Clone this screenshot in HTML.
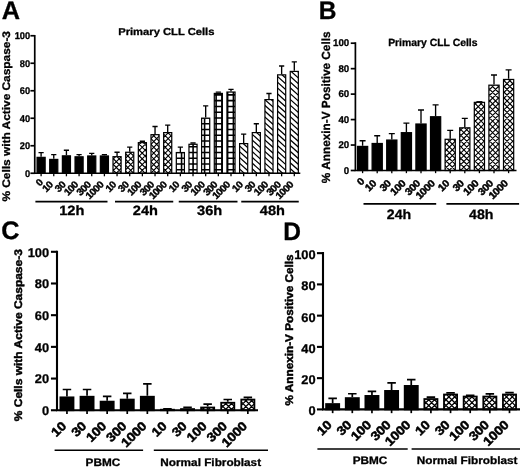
<!DOCTYPE html>
<html lang="en">
<head>
<meta charset="utf-8">
<title>Figure</title>
<style>
html,body{margin:0;padding:0;background:#fff;}
body{width:520px;height:468px;overflow:hidden;}
svg{display:block;font-family:"Liberation Sans", Arial, Helvetica, sans-serif;fill:#000;}
text{text-rendering:geometricPrecision;}

</style>
</head>
<body>
<svg width="520" height="468" viewBox="0 0 520 468">
<rect width="520" height="468" fill="#fff"/>
<defs>
<clipPath id="c1"><rect x="113.01" y="156.66" width="8.10" height="16.59"/></clipPath>
<clipPath id="c2"><rect x="125.67" y="152.26" width="8.10" height="20.99"/></clipPath>
<clipPath id="c3"><rect x="138.33" y="142.64" width="8.10" height="30.61"/></clipPath>
<clipPath id="c4"><rect x="150.99" y="134.66" width="8.10" height="38.59"/></clipPath>
<clipPath id="c5"><rect x="163.65" y="132.60" width="8.10" height="40.65"/></clipPath>
<clipPath id="c6"><rect x="176.31" y="152.54" width="8.10" height="20.71"/></clipPath>
<clipPath id="c7"><rect x="188.97" y="144.29" width="8.10" height="28.96"/></clipPath>
<clipPath id="c8"><rect x="201.63" y="118.16" width="8.10" height="55.09"/></clipPath>
<clipPath id="c9"><rect x="214.29" y="93.41" width="8.10" height="79.84"/></clipPath>
<clipPath id="c10"><rect x="226.95" y="92.04" width="8.10" height="81.21"/></clipPath>
<clipPath id="c11"><rect x="239.61" y="143.60" width="8.10" height="29.65"/></clipPath>
<clipPath id="c12"><rect x="252.27" y="132.60" width="8.10" height="40.65"/></clipPath>
<clipPath id="c13"><rect x="264.93" y="99.60" width="8.10" height="73.65"/></clipPath>
<clipPath id="c14"><rect x="277.59" y="74.85" width="8.10" height="98.40"/></clipPath>
<clipPath id="c15"><rect x="290.25" y="71.41" width="8.10" height="101.84"/></clipPath>
<clipPath id="c16"><rect x="445.10" y="139.28" width="10.20" height="31.22"/></clipPath>
<clipPath id="c17"><rect x="459.70" y="127.82" width="10.20" height="42.68"/></clipPath>
<clipPath id="c18"><rect x="474.30" y="102.36" width="10.20" height="68.14"/></clipPath>
<clipPath id="c19"><rect x="488.90" y="85.17" width="10.20" height="85.33"/></clipPath>
<clipPath id="c20"><rect x="503.50" y="79.44" width="10.20" height="91.06"/></clipPath>
<clipPath id="c21"><rect x="160.90" y="409.72" width="13.10" height="0.53"/></clipPath>
<clipPath id="c22"><rect x="181.00" y="409.09" width="13.10" height="1.16"/></clipPath>
<clipPath id="c23"><rect x="201.10" y="407.51" width="13.10" height="2.74"/></clipPath>
<clipPath id="c24"><rect x="221.20" y="402.75" width="13.10" height="7.50"/></clipPath>
<clipPath id="c25"><rect x="241.30" y="399.58" width="13.10" height="10.67"/></clipPath>
<clipPath id="c26"><rect x="424.35" y="399.05" width="13.10" height="10.35"/></clipPath>
<clipPath id="c27"><rect x="444.00" y="394.52" width="13.10" height="14.88"/></clipPath>
<clipPath id="c28"><rect x="463.65" y="396.55" width="13.10" height="12.85"/></clipPath>
<clipPath id="c29"><rect x="483.30" y="396.55" width="13.10" height="12.85"/></clipPath>
<clipPath id="c30"><rect x="502.95" y="394.52" width="13.10" height="14.88"/></clipPath>
</defs>
<g>
<text transform="translate(1.80,19.00)" font-size="25.3" font-weight="bold" text-anchor="start" stroke="#000" stroke-width="0.30" stroke-linejoin="round">A</text>
<text transform="translate(166.30,35.10) scale(1.1200,1.0000)" font-size="10.0" font-weight="bold" text-anchor="middle" stroke="#000" stroke-width="0.30" stroke-linejoin="round">Primary CLL Cells</text>
<text transform="translate(10.30,116.30) rotate(-90) scale(1.0800,1.0000)" font-size="11.0" font-weight="bold" text-anchor="middle" stroke="#000" stroke-width="0.30" stroke-linejoin="round">% Cells with Active Caspase-3</text>
<path d="M41.10,156.75 V152.62 M38.50,152.62 H43.70" stroke="#000" stroke-width="1.35" fill="none"/>
<rect x="37.05" y="157.35" width="8.10" height="15.90" fill="#000" stroke="#000" stroke-width="1.2"/>
<path d="M41.10,173.25 v3.05" stroke="#000" stroke-width="1.3"/>
<text transform="translate(43.30,183.25) rotate(-45) scale(1.0400,1.0000)" font-size="9.9" font-weight="bold" text-anchor="end" letter-spacing="-0.60" stroke="#000" stroke-width="0.40" stroke-linejoin="round">0</text>
<path d="M53.76,158.81 V154.69 M51.16,154.69 H56.36" stroke="#000" stroke-width="1.35" fill="none"/>
<rect x="49.71" y="159.41" width="8.10" height="13.84" fill="#000" stroke="#000" stroke-width="1.2"/>
<path d="M53.76,173.25 v3.05" stroke="#000" stroke-width="1.3"/>
<text transform="translate(53.36,185.45) rotate(-45) scale(1.0400,1.0000)" font-size="9.9" font-weight="bold" text-anchor="end" letter-spacing="-0.60" stroke="#000" stroke-width="0.40" stroke-linejoin="round">10</text>
<path d="M66.42,155.24 V150.29 M63.82,150.29 H69.02" stroke="#000" stroke-width="1.35" fill="none"/>
<rect x="62.37" y="155.84" width="8.10" height="17.41" fill="#000" stroke="#000" stroke-width="1.2"/>
<path d="M66.42,173.25 v3.05" stroke="#000" stroke-width="1.3"/>
<text transform="translate(66.02,185.45) rotate(-45) scale(1.0400,1.0000)" font-size="9.9" font-weight="bold" text-anchor="end" letter-spacing="-0.60" stroke="#000" stroke-width="0.40" stroke-linejoin="round">30</text>
<path d="M79.08,156.20 V154.69 M76.48,154.69 H81.68" stroke="#000" stroke-width="1.35" fill="none"/>
<rect x="75.03" y="156.80" width="8.10" height="16.45" fill="#000" stroke="#000" stroke-width="1.2"/>
<path d="M79.08,173.25 v3.05" stroke="#000" stroke-width="1.3"/>
<text transform="translate(78.68,185.45) rotate(-45) scale(1.0400,1.0000)" font-size="9.9" font-weight="bold" text-anchor="end" letter-spacing="-0.60" stroke="#000" stroke-width="0.40" stroke-linejoin="round">100</text>
<path d="M91.74,155.38 V153.31 M89.14,153.31 H94.34" stroke="#000" stroke-width="1.35" fill="none"/>
<rect x="87.69" y="155.97" width="8.10" height="17.27" fill="#000" stroke="#000" stroke-width="1.2"/>
<path d="M91.74,173.25 v3.05" stroke="#000" stroke-width="1.3"/>
<text transform="translate(91.34,185.45) rotate(-45) scale(1.0400,1.0000)" font-size="9.9" font-weight="bold" text-anchor="end" letter-spacing="-0.60" stroke="#000" stroke-width="0.40" stroke-linejoin="round">300</text>
<path d="M104.40,155.38 V154.69 M101.80,154.69 H107.00" stroke="#000" stroke-width="1.35" fill="none"/>
<rect x="100.35" y="155.97" width="8.10" height="17.27" fill="#000" stroke="#000" stroke-width="1.2"/>
<path d="M104.40,173.25 v3.05" stroke="#000" stroke-width="1.3"/>
<text transform="translate(104.00,185.45) rotate(-45) scale(1.0400,1.0000)" font-size="9.9" font-weight="bold" text-anchor="end" letter-spacing="-0.60" stroke="#000" stroke-width="0.40" stroke-linejoin="round">1000</text>
<path d="M35.4,201.65 H107.5" stroke="#000" stroke-width="1.7"/>
<text transform="translate(71.80,214.70) scale(1.0800,1.0000)" font-size="13.5" font-weight="bold" text-anchor="middle" stroke="#000" stroke-width="0.30" stroke-linejoin="round">12h</text>
<path d="M117.06,156.06 V152.21 M114.46,152.21 H119.66" stroke="#000" stroke-width="1.35" fill="none"/>
<rect x="113.01" y="156.66" width="8.10" height="16.59" fill="#fff"/>
<path d="M112.01,140.11L122.11,150.21M112.01,145.87L122.11,155.97M112.01,151.63L122.11,161.73M112.01,157.39L122.11,167.49M112.01,163.15L122.11,173.25M112.01,168.91L122.11,179.01M112.01,174.67L122.11,184.77M112.01,180.43L122.11,190.53M112.01,148.69L122.11,138.59M112.01,154.45L122.11,144.35M112.01,160.21L122.11,150.11M112.01,165.97L122.11,155.87M112.01,171.73L122.11,161.63M112.01,177.49L122.11,167.39M112.01,183.25L122.11,173.15M112.01,189.01L122.11,178.91" clip-path="url(#c1)" stroke="#000" stroke-width="1.15" fill="none"/>
<rect x="113.01" y="156.66" width="8.10" height="16.59" fill="none" stroke="#000" stroke-width="1.2"/>
<path d="M117.06,173.25 v3.05" stroke="#000" stroke-width="1.3"/>
<text transform="translate(116.66,185.45) rotate(-45) scale(1.0400,1.0000)" font-size="9.9" font-weight="bold" text-anchor="end" letter-spacing="-0.60" stroke="#000" stroke-width="0.40" stroke-linejoin="round">10</text>
<path d="M129.72,151.66 V147.12 M127.12,147.12 H132.32" stroke="#000" stroke-width="1.35" fill="none"/>
<rect x="125.67" y="152.26" width="8.10" height="20.99" fill="#fff"/>
<path d="M124.67,135.49L134.77,145.59M124.67,141.25L134.77,151.35M124.67,147.01L134.77,157.11M124.67,152.77L134.77,162.87M124.67,158.53L134.77,168.63M124.67,164.29L134.77,174.39M124.67,170.05L134.77,180.15M124.67,175.81L134.77,185.91M124.67,181.57L134.77,191.67M124.67,141.79L134.77,131.69M124.67,147.55L134.77,137.45M124.67,153.31L134.77,143.21M124.67,159.07L134.77,148.97M124.67,164.83L134.77,154.73M124.67,170.59L134.77,160.49M124.67,176.35L134.77,166.25M124.67,182.11L134.77,172.01M124.67,187.87L134.77,177.77M124.67,193.63L134.77,183.53" clip-path="url(#c2)" stroke="#000" stroke-width="1.15" fill="none"/>
<rect x="125.67" y="152.26" width="8.10" height="20.99" fill="none" stroke="#000" stroke-width="1.2"/>
<path d="M129.72,173.25 v3.05" stroke="#000" stroke-width="1.3"/>
<text transform="translate(129.32,185.45) rotate(-45) scale(1.0400,1.0000)" font-size="9.9" font-weight="bold" text-anchor="end" letter-spacing="-0.60" stroke="#000" stroke-width="0.40" stroke-linejoin="round">30</text>
<path d="M142.38,142.04 V141.21 M139.78,141.21 H144.98" stroke="#000" stroke-width="1.35" fill="none"/>
<rect x="138.33" y="142.64" width="8.10" height="30.61" fill="#fff"/>
<path d="M137.33,125.11L147.43,135.21M137.33,130.87L147.43,140.97M137.33,136.63L147.43,146.73M137.33,142.39L147.43,152.49M137.33,148.15L147.43,158.25M137.33,153.91L147.43,164.01M137.33,159.67L147.43,169.77M137.33,165.43L147.43,175.53M137.33,171.19L147.43,181.29M137.33,176.95L147.43,187.05M137.33,182.71L147.43,192.81M137.33,134.89L147.43,124.79M137.33,140.65L147.43,130.55M137.33,146.41L147.43,136.31M137.33,152.17L147.43,142.07M137.33,157.93L147.43,147.83M137.33,163.69L147.43,153.59M137.33,169.45L147.43,159.35M137.33,175.21L147.43,165.11M137.33,180.97L147.43,170.87M137.33,186.73L147.43,176.63M137.33,192.49L147.43,182.39" clip-path="url(#c3)" stroke="#000" stroke-width="1.15" fill="none"/>
<rect x="138.33" y="142.64" width="8.10" height="30.61" fill="none" stroke="#000" stroke-width="1.2"/>
<path d="M142.38,173.25 v3.05" stroke="#000" stroke-width="1.3"/>
<text transform="translate(141.98,185.45) rotate(-45) scale(1.0400,1.0000)" font-size="9.9" font-weight="bold" text-anchor="end" letter-spacing="-0.60" stroke="#000" stroke-width="0.40" stroke-linejoin="round">100</text>
<path d="M155.04,134.06 V126.50 M152.44,126.50 H157.64" stroke="#000" stroke-width="1.35" fill="none"/>
<rect x="150.99" y="134.66" width="8.10" height="38.59" fill="#fff"/>
<path d="M149.99,114.73L160.09,124.83M149.99,120.49L160.09,130.59M149.99,126.25L160.09,136.35M149.99,132.01L160.09,142.11M149.99,137.77L160.09,147.87M149.99,143.53L160.09,153.63M149.99,149.29L160.09,159.39M149.99,155.05L160.09,165.15M149.99,160.81L160.09,170.91M149.99,166.57L160.09,176.67M149.99,172.33L160.09,182.43M149.99,178.09L160.09,188.19M149.99,127.99L160.09,117.89M149.99,133.75L160.09,123.65M149.99,139.51L160.09,129.41M149.99,145.27L160.09,135.17M149.99,151.03L160.09,140.93M149.99,156.79L160.09,146.69M149.99,162.55L160.09,152.45M149.99,168.31L160.09,158.21M149.99,174.07L160.09,163.97M149.99,179.83L160.09,169.73M149.99,185.59L160.09,175.49M149.99,191.35L160.09,181.25" clip-path="url(#c4)" stroke="#000" stroke-width="1.15" fill="none"/>
<rect x="150.99" y="134.66" width="8.10" height="38.59" fill="none" stroke="#000" stroke-width="1.2"/>
<path d="M155.04,173.25 v3.05" stroke="#000" stroke-width="1.3"/>
<text transform="translate(154.64,185.45) rotate(-45) scale(1.0400,1.0000)" font-size="9.9" font-weight="bold" text-anchor="end" letter-spacing="-0.60" stroke="#000" stroke-width="0.40" stroke-linejoin="round">300</text>
<path d="M167.70,132.00 V125.12 M165.10,125.12 H170.30" stroke="#000" stroke-width="1.35" fill="none"/>
<rect x="163.65" y="132.60" width="8.10" height="40.65" fill="#fff"/>
<path d="M162.65,115.87L172.75,125.97M162.65,121.63L172.75,131.73M162.65,127.39L172.75,137.49M162.65,133.15L172.75,143.25M162.65,138.91L172.75,149.01M162.65,144.67L172.75,154.77M162.65,150.43L172.75,160.53M162.65,156.19L172.75,166.29M162.65,161.95L172.75,172.05M162.65,167.71L172.75,177.81M162.65,173.47L172.75,183.57M162.65,179.23L172.75,189.33M162.65,126.85L172.75,116.75M162.65,132.61L172.75,122.51M162.65,138.37L172.75,128.27M162.65,144.13L172.75,134.03M162.65,149.89L172.75,139.79M162.65,155.65L172.75,145.55M162.65,161.41L172.75,151.31M162.65,167.17L172.75,157.07M162.65,172.93L172.75,162.83M162.65,178.69L172.75,168.59M162.65,184.45L172.75,174.35M162.65,190.21L172.75,180.11" clip-path="url(#c5)" stroke="#000" stroke-width="1.15" fill="none"/>
<rect x="163.65" y="132.60" width="8.10" height="40.65" fill="none" stroke="#000" stroke-width="1.2"/>
<path d="M167.70,173.25 v3.05" stroke="#000" stroke-width="1.3"/>
<text transform="translate(167.30,185.45) rotate(-45) scale(1.0400,1.0000)" font-size="9.9" font-weight="bold" text-anchor="end" letter-spacing="-0.60" stroke="#000" stroke-width="0.40" stroke-linejoin="round">1000</text>
<path d="M115,201.65 H173.25" stroke="#000" stroke-width="1.7"/>
<text transform="translate(145.40,214.70) scale(1.0800,1.0000)" font-size="13.5" font-weight="bold" text-anchor="middle" stroke="#000" stroke-width="0.30" stroke-linejoin="round">24h</text>
<path d="M180.36,151.94 V147.12 M177.76,147.12 H182.96" stroke="#000" stroke-width="1.35" fill="none"/>
<rect x="176.31" y="152.54" width="8.10" height="20.71" fill="#fff"/>
<path d="M175.80,151.54V174.25M181.56,151.54V174.25M187.32,151.54V174.25M175.31,152.51H185.41M175.31,158.27H185.41M175.31,164.03H185.41M175.31,169.79H185.41M175.31,175.55H185.41" clip-path="url(#c6)" stroke="#000" stroke-width="1.6" fill="none"/>
<rect x="176.31" y="152.54" width="8.10" height="20.71" fill="none" stroke="#000" stroke-width="1.2"/>
<path d="M180.36,173.25 v3.05" stroke="#000" stroke-width="1.3"/>
<text transform="translate(179.96,185.45) rotate(-45) scale(1.0400,1.0000)" font-size="9.9" font-weight="bold" text-anchor="end" letter-spacing="-0.60" stroke="#000" stroke-width="0.40" stroke-linejoin="round">10</text>
<path d="M193.02,143.69 V143.00 M190.42,143.00 H195.62" stroke="#000" stroke-width="1.35" fill="none"/>
<rect x="188.97" y="144.29" width="8.10" height="28.96" fill="#fff"/>
<path d="M187.32,143.29V174.25M193.08,143.29V174.25M198.84,143.29V174.25M187.97,140.99H198.07M187.97,146.75H198.07M187.97,152.51H198.07M187.97,158.27H198.07M187.97,164.03H198.07M187.97,169.79H198.07M187.97,175.55H198.07" clip-path="url(#c7)" stroke="#000" stroke-width="1.6" fill="none"/>
<rect x="188.97" y="144.29" width="8.10" height="28.96" fill="none" stroke="#000" stroke-width="1.2"/>
<path d="M193.02,173.25 v3.05" stroke="#000" stroke-width="1.3"/>
<text transform="translate(192.62,185.45) rotate(-45) scale(1.0400,1.0000)" font-size="9.9" font-weight="bold" text-anchor="end" letter-spacing="-0.60" stroke="#000" stroke-width="0.40" stroke-linejoin="round">30</text>
<path d="M205.68,117.56 V105.88 M203.08,105.88 H208.28" stroke="#000" stroke-width="1.35" fill="none"/>
<rect x="201.63" y="118.16" width="8.10" height="55.09" fill="#fff"/>
<path d="M198.84,117.16V174.25M204.60,117.16V174.25M210.36,117.16V174.25M200.63,117.95H210.73M200.63,123.71H210.73M200.63,129.47H210.73M200.63,135.23H210.73M200.63,140.99H210.73M200.63,146.75H210.73M200.63,152.51H210.73M200.63,158.27H210.73M200.63,164.03H210.73M200.63,169.79H210.73M200.63,175.55H210.73" clip-path="url(#c8)" stroke="#000" stroke-width="1.6" fill="none"/>
<rect x="201.63" y="118.16" width="8.10" height="55.09" fill="none" stroke="#000" stroke-width="1.2"/>
<path d="M205.68,173.25 v3.05" stroke="#000" stroke-width="1.3"/>
<text transform="translate(205.28,185.45) rotate(-45) scale(1.0400,1.0000)" font-size="9.9" font-weight="bold" text-anchor="end" letter-spacing="-0.60" stroke="#000" stroke-width="0.40" stroke-linejoin="round">100</text>
<path d="M218.34,92.81 V92.12 M215.74,92.12 H220.94" stroke="#000" stroke-width="1.35" fill="none"/>
<rect x="214.29" y="93.41" width="8.10" height="79.84" fill="#fff"/>
<path d="M210.36,92.41V174.25M216.12,92.41V174.25M221.88,92.41V174.25M227.64,92.41V174.25M213.29,89.15H223.39M213.29,94.91H223.39M213.29,100.67H223.39M213.29,106.43H223.39M213.29,112.19H223.39M213.29,117.95H223.39M213.29,123.71H223.39M213.29,129.47H223.39M213.29,135.23H223.39M213.29,140.99H223.39M213.29,146.75H223.39M213.29,152.51H223.39M213.29,158.27H223.39M213.29,164.03H223.39M213.29,169.79H223.39M213.29,175.55H223.39" clip-path="url(#c9)" stroke="#000" stroke-width="1.6" fill="none"/>
<rect x="214.29" y="93.41" width="8.10" height="79.84" fill="none" stroke="#000" stroke-width="1.2"/>
<path d="M218.34,173.25 v3.05" stroke="#000" stroke-width="1.3"/>
<text transform="translate(217.94,185.45) rotate(-45) scale(1.0400,1.0000)" font-size="9.9" font-weight="bold" text-anchor="end" letter-spacing="-0.60" stroke="#000" stroke-width="0.40" stroke-linejoin="round">300</text>
<path d="M231.00,91.44 V89.38 M228.40,89.38 H233.60" stroke="#000" stroke-width="1.35" fill="none"/>
<rect x="226.95" y="92.04" width="8.10" height="81.21" fill="#fff"/>
<path d="M221.88,91.04V174.25M227.64,91.04V174.25M233.40,91.04V174.25M239.16,91.04V174.25M225.95,89.15H236.05M225.95,94.91H236.05M225.95,100.67H236.05M225.95,106.43H236.05M225.95,112.19H236.05M225.95,117.95H236.05M225.95,123.71H236.05M225.95,129.47H236.05M225.95,135.23H236.05M225.95,140.99H236.05M225.95,146.75H236.05M225.95,152.51H236.05M225.95,158.27H236.05M225.95,164.03H236.05M225.95,169.79H236.05M225.95,175.55H236.05" clip-path="url(#c10)" stroke="#000" stroke-width="1.6" fill="none"/>
<rect x="226.95" y="92.04" width="8.10" height="81.21" fill="none" stroke="#000" stroke-width="1.2"/>
<path d="M231.00,173.25 v3.05" stroke="#000" stroke-width="1.3"/>
<text transform="translate(230.60,185.45) rotate(-45) scale(1.0400,1.0000)" font-size="9.9" font-weight="bold" text-anchor="end" letter-spacing="-0.60" stroke="#000" stroke-width="0.40" stroke-linejoin="round">1000</text>
<path d="M178.75,201.65 H237.5" stroke="#000" stroke-width="1.7"/>
<text transform="translate(209.60,214.70) scale(1.0800,1.0000)" font-size="13.5" font-weight="bold" text-anchor="middle" stroke="#000" stroke-width="0.30" stroke-linejoin="round">36h</text>
<path d="M243.66,143.00 V134.06 M241.06,134.06 H246.26" stroke="#000" stroke-width="1.35" fill="none"/>
<rect x="239.61" y="143.60" width="8.10" height="29.65" fill="#fff"/>
<path d="M238.61,127.86L248.71,136.95M238.61,133.62L248.71,142.71M238.61,139.38L248.71,148.47M238.61,145.14L248.71,154.23M238.61,150.90L248.71,159.99M238.61,156.66L248.71,165.75M238.61,162.42L248.71,171.51M238.61,168.18L248.71,177.27M238.61,173.94L248.71,183.03M238.61,179.70L248.71,188.79" clip-path="url(#c11)" stroke="#000" stroke-width="1.25" fill="none"/>
<rect x="239.61" y="143.60" width="8.10" height="29.65" fill="none" stroke="#000" stroke-width="1.2"/>
<path d="M243.66,173.25 v3.05" stroke="#000" stroke-width="1.3"/>
<text transform="translate(243.26,185.45) rotate(-45) scale(1.0400,1.0000)" font-size="9.9" font-weight="bold" text-anchor="end" letter-spacing="-0.60" stroke="#000" stroke-width="0.40" stroke-linejoin="round">10</text>
<path d="M256.32,132.00 V123.75 M253.72,123.75 H258.92" stroke="#000" stroke-width="1.35" fill="none"/>
<rect x="252.27" y="132.60" width="8.10" height="40.65" fill="#fff"/>
<path d="M251.27,116.21L261.37,125.30M251.27,121.97L261.37,131.06M251.27,127.73L261.37,136.82M251.27,133.49L261.37,142.58M251.27,139.25L261.37,148.34M251.27,145.01L261.37,154.10M251.27,150.77L261.37,159.86M251.27,156.53L261.37,165.62M251.27,162.29L261.37,171.38M251.27,168.05L261.37,177.14M251.27,173.81L261.37,182.90M251.27,179.57L261.37,188.66" clip-path="url(#c12)" stroke="#000" stroke-width="1.25" fill="none"/>
<rect x="252.27" y="132.60" width="8.10" height="40.65" fill="none" stroke="#000" stroke-width="1.2"/>
<path d="M256.32,173.25 v3.05" stroke="#000" stroke-width="1.3"/>
<text transform="translate(255.92,185.45) rotate(-45) scale(1.0400,1.0000)" font-size="9.9" font-weight="bold" text-anchor="end" letter-spacing="-0.60" stroke="#000" stroke-width="0.40" stroke-linejoin="round">30</text>
<path d="M268.98,99.00 V93.50 M266.38,93.50 H271.58" stroke="#000" stroke-width="1.35" fill="none"/>
<rect x="264.93" y="99.60" width="8.10" height="73.65" fill="#fff"/>
<path d="M263.93,81.53L274.03,90.62M263.93,87.29L274.03,96.38M263.93,93.05L274.03,102.14M263.93,98.81L274.03,107.90M263.93,104.57L274.03,113.66M263.93,110.33L274.03,119.42M263.93,116.09L274.03,125.18M263.93,121.85L274.03,130.94M263.93,127.61L274.03,136.70M263.93,133.37L274.03,142.46M263.93,139.13L274.03,148.22M263.93,144.89L274.03,153.98M263.93,150.65L274.03,159.74M263.93,156.41L274.03,165.50M263.93,162.17L274.03,171.26M263.93,167.93L274.03,177.02M263.93,173.69L274.03,182.78M263.93,179.45L274.03,188.54" clip-path="url(#c13)" stroke="#000" stroke-width="1.25" fill="none"/>
<rect x="264.93" y="99.60" width="8.10" height="73.65" fill="none" stroke="#000" stroke-width="1.2"/>
<path d="M268.98,173.25 v3.05" stroke="#000" stroke-width="1.3"/>
<text transform="translate(268.58,185.45) rotate(-45) scale(1.0400,1.0000)" font-size="9.9" font-weight="bold" text-anchor="end" letter-spacing="-0.60" stroke="#000" stroke-width="0.40" stroke-linejoin="round">100</text>
<path d="M281.64,74.25 V66.00 M279.04,66.00 H284.24" stroke="#000" stroke-width="1.35" fill="none"/>
<rect x="277.59" y="74.85" width="8.10" height="98.40" fill="#fff"/>
<path d="M276.59,58.36L286.69,67.45M276.59,64.12L286.69,73.21M276.59,69.88L286.69,78.97M276.59,75.64L286.69,84.73M276.59,81.40L286.69,90.49M276.59,87.16L286.69,96.25M276.59,92.92L286.69,102.01M276.59,98.68L286.69,107.77M276.59,104.44L286.69,113.53M276.59,110.20L286.69,119.29M276.59,115.96L286.69,125.05M276.59,121.72L286.69,130.81M276.59,127.48L286.69,136.57M276.59,133.24L286.69,142.33M276.59,139.00L286.69,148.09M276.59,144.76L286.69,153.85M276.59,150.52L286.69,159.61M276.59,156.28L286.69,165.37M276.59,162.04L286.69,171.13M276.59,167.80L286.69,176.89M276.59,173.56L286.69,182.65M276.59,179.32L286.69,188.41" clip-path="url(#c14)" stroke="#000" stroke-width="1.25" fill="none"/>
<rect x="277.59" y="74.85" width="8.10" height="98.40" fill="none" stroke="#000" stroke-width="1.2"/>
<path d="M281.64,173.25 v3.05" stroke="#000" stroke-width="1.3"/>
<text transform="translate(281.24,185.45) rotate(-45) scale(1.0400,1.0000)" font-size="9.9" font-weight="bold" text-anchor="end" letter-spacing="-0.60" stroke="#000" stroke-width="0.40" stroke-linejoin="round">300</text>
<path d="M294.30,70.81 V61.88 M291.70,61.88 H296.90" stroke="#000" stroke-width="1.35" fill="none"/>
<rect x="290.25" y="71.41" width="8.10" height="101.84" fill="#fff"/>
<path d="M289.25,52.48L299.35,61.57M289.25,58.24L299.35,67.33M289.25,64.00L299.35,73.09M289.25,69.76L299.35,78.85M289.25,75.52L299.35,84.61M289.25,81.28L299.35,90.37M289.25,87.04L299.35,96.13M289.25,92.80L299.35,101.89M289.25,98.56L299.35,107.65M289.25,104.32L299.35,113.41M289.25,110.08L299.35,119.17M289.25,115.84L299.35,124.93M289.25,121.60L299.35,130.69M289.25,127.36L299.35,136.45M289.25,133.12L299.35,142.21M289.25,138.88L299.35,147.97M289.25,144.64L299.35,153.73M289.25,150.40L299.35,159.49M289.25,156.16L299.35,165.25M289.25,161.92L299.35,171.01M289.25,167.68L299.35,176.77M289.25,173.44L299.35,182.53M289.25,179.20L299.35,188.29" clip-path="url(#c15)" stroke="#000" stroke-width="1.25" fill="none"/>
<rect x="290.25" y="71.41" width="8.10" height="101.84" fill="none" stroke="#000" stroke-width="1.2"/>
<path d="M294.30,173.25 v3.05" stroke="#000" stroke-width="1.3"/>
<text transform="translate(293.90,185.45) rotate(-45) scale(1.0400,1.0000)" font-size="9.9" font-weight="bold" text-anchor="end" letter-spacing="-0.60" stroke="#000" stroke-width="0.40" stroke-linejoin="round">1000</text>
<path d="M241.25,201.65 H298.75" stroke="#000" stroke-width="1.7"/>
<text transform="translate(272.40,214.70) scale(1.0800,1.0000)" font-size="13.5" font-weight="bold" text-anchor="middle" stroke="#000" stroke-width="0.30" stroke-linejoin="round">48h</text>
<path d="M34.75,34.90 V173.25 H300.3" stroke="#000" stroke-width="1.7" fill="none" stroke-linejoin="miter"/>
<path d="M30.40,173.25 H34.75" stroke="#000" stroke-width="1.7"/>
<text transform="translate(30.20,176.55) scale(0.9500,1.0000)" font-size="9.8" font-weight="bold" text-anchor="end" stroke="#000" stroke-width="0.30" stroke-linejoin="round">0</text>
<path d="M30.40,145.75 H34.75" stroke="#000" stroke-width="1.7"/>
<text transform="translate(30.20,149.05) scale(0.9500,1.0000)" font-size="9.8" font-weight="bold" text-anchor="end" stroke="#000" stroke-width="0.30" stroke-linejoin="round">20</text>
<path d="M30.40,118.25 H34.75" stroke="#000" stroke-width="1.7"/>
<text transform="translate(30.20,121.55) scale(0.9500,1.0000)" font-size="9.8" font-weight="bold" text-anchor="end" stroke="#000" stroke-width="0.30" stroke-linejoin="round">40</text>
<path d="M30.40,90.75 H34.75" stroke="#000" stroke-width="1.7"/>
<text transform="translate(30.20,94.05) scale(0.9500,1.0000)" font-size="9.8" font-weight="bold" text-anchor="end" stroke="#000" stroke-width="0.30" stroke-linejoin="round">60</text>
<path d="M30.40,63.25 H34.75" stroke="#000" stroke-width="1.7"/>
<text transform="translate(30.20,66.55) scale(0.9500,1.0000)" font-size="9.8" font-weight="bold" text-anchor="end" stroke="#000" stroke-width="0.30" stroke-linejoin="round">80</text>
<path d="M30.40,35.75 H34.75" stroke="#000" stroke-width="1.7"/>
<text transform="translate(30.20,39.05) scale(0.9500,1.0000)" font-size="9.8" font-weight="bold" text-anchor="end" stroke="#000" stroke-width="0.30" stroke-linejoin="round">100</text>
</g>
<g>
<text transform="translate(318.70,19.20) scale(0.9700,1.0000)" font-size="25.3" font-weight="bold" text-anchor="start" stroke="#000" stroke-width="0.30" stroke-linejoin="round">B</text>
<text transform="translate(432.80,45.80)" font-size="10.4" font-weight="bold" text-anchor="middle" stroke="#000" stroke-width="0.30" stroke-linejoin="round">Primary CLL Cells</text>
<text transform="translate(330.00,107.30) rotate(-90)" font-size="11.8" font-weight="bold" text-anchor="middle" stroke="#000" stroke-width="0.30" stroke-linejoin="round">% Annexin-V Positive Cells</text>
<path d="M362.60,145.80 V140.71 M359.60,140.71 H365.60" stroke="#000" stroke-width="1.35" fill="none"/>
<rect x="357.50" y="146.40" width="10.20" height="24.10" fill="#000" stroke="#000" stroke-width="1.2"/>
<path d="M362.60,170.50 v2.65" stroke="#000" stroke-width="1.3"/>
<text transform="translate(364.90,182.00) rotate(-45) scale(1.0700,1.0000)" font-size="10.1" font-weight="bold" text-anchor="end" letter-spacing="-0.45" stroke="#000" stroke-width="0.45" stroke-linejoin="round">0</text>
<path d="M377.20,142.88 V135.75 M374.20,135.75 H380.20" stroke="#000" stroke-width="1.35" fill="none"/>
<rect x="372.10" y="143.48" width="10.20" height="27.02" fill="#000" stroke="#000" stroke-width="1.2"/>
<path d="M377.20,170.50 v2.65" stroke="#000" stroke-width="1.3"/>
<text transform="translate(376.90,184.20) rotate(-45) scale(1.0700,1.0000)" font-size="10.1" font-weight="bold" text-anchor="end" letter-spacing="-0.45" stroke="#000" stroke-width="0.45" stroke-linejoin="round">10</text>
<path d="M391.80,139.44 V133.58 M388.80,133.58 H394.80" stroke="#000" stroke-width="1.35" fill="none"/>
<rect x="386.70" y="140.04" width="10.20" height="30.46" fill="#000" stroke="#000" stroke-width="1.2"/>
<path d="M391.80,170.50 v2.65" stroke="#000" stroke-width="1.3"/>
<text transform="translate(391.50,184.20) rotate(-45) scale(1.0700,1.0000)" font-size="10.1" font-weight="bold" text-anchor="end" letter-spacing="-0.45" stroke="#000" stroke-width="0.45" stroke-linejoin="round">30</text>
<path d="M406.40,132.06 V123.14 M403.40,123.14 H409.40" stroke="#000" stroke-width="1.35" fill="none"/>
<rect x="401.30" y="132.66" width="10.20" height="37.84" fill="#000" stroke="#000" stroke-width="1.2"/>
<path d="M406.40,170.50 v2.65" stroke="#000" stroke-width="1.3"/>
<text transform="translate(406.10,184.20) rotate(-45) scale(1.0700,1.0000)" font-size="10.1" font-weight="bold" text-anchor="end" letter-spacing="-0.45" stroke="#000" stroke-width="0.45" stroke-linejoin="round">100</text>
<path d="M421.00,123.40 V110.03 M418.00,110.03 H424.00" stroke="#000" stroke-width="1.35" fill="none"/>
<rect x="415.90" y="124.00" width="10.20" height="46.50" fill="#000" stroke="#000" stroke-width="1.2"/>
<path d="M421.00,170.50 v2.65" stroke="#000" stroke-width="1.3"/>
<text transform="translate(420.70,184.20) rotate(-45) scale(1.0700,1.0000)" font-size="10.1" font-weight="bold" text-anchor="end" letter-spacing="-0.45" stroke="#000" stroke-width="0.45" stroke-linejoin="round">300</text>
<path d="M435.60,116.14 V104.94 M432.60,104.94 H438.60" stroke="#000" stroke-width="1.35" fill="none"/>
<rect x="430.50" y="116.74" width="10.20" height="53.76" fill="#000" stroke="#000" stroke-width="1.2"/>
<path d="M435.60,170.50 v2.65" stroke="#000" stroke-width="1.3"/>
<text transform="translate(435.30,184.20) rotate(-45) scale(1.0700,1.0000)" font-size="10.1" font-weight="bold" text-anchor="end" letter-spacing="-0.45" stroke="#000" stroke-width="0.45" stroke-linejoin="round">1000</text>
<path d="M363.5,203.9 H436.2" stroke="#000" stroke-width="1.7"/>
<text transform="translate(399.00,218.60) scale(1.0400,1.0000)" font-size="13.6" font-weight="bold" text-anchor="middle" stroke="#000" stroke-width="0.30" stroke-linejoin="round">24h</text>
<path d="M450.20,138.68 V130.40 M447.20,130.40 H453.20" stroke="#000" stroke-width="1.35" fill="none"/>
<rect x="445.10" y="139.28" width="10.20" height="31.22" fill="#fff"/>
<path d="M444.10,118.64L456.30,130.84M444.10,124.40L456.30,136.60M444.10,130.16L456.30,142.36M444.10,135.92L456.30,148.12M444.10,141.68L456.30,153.88M444.10,147.44L456.30,159.64M444.10,153.20L456.30,165.40M444.10,158.96L456.30,171.16M444.10,164.72L456.30,176.92M444.10,170.48L456.30,182.68M444.10,176.24L456.30,188.44M444.10,129.28L456.30,117.08M444.10,135.04L456.30,122.84M444.10,140.80L456.30,128.60M444.10,146.56L456.30,134.36M444.10,152.32L456.30,140.12M444.10,158.08L456.30,145.88M444.10,163.84L456.30,151.64M444.10,169.60L456.30,157.40M444.10,175.36L456.30,163.16M444.10,181.12L456.30,168.92M444.10,186.88L456.30,174.68M444.10,192.64L456.30,180.44" clip-path="url(#c16)" stroke="#000" stroke-width="1.15" fill="none"/>
<rect x="445.10" y="139.28" width="10.20" height="31.22" fill="none" stroke="#000" stroke-width="1.2"/>
<path d="M450.20,170.50 v2.65" stroke="#000" stroke-width="1.3"/>
<text transform="translate(449.90,184.20) rotate(-45) scale(1.0700,1.0000)" font-size="10.1" font-weight="bold" text-anchor="end" letter-spacing="-0.45" stroke="#000" stroke-width="0.45" stroke-linejoin="round">10</text>
<path d="M464.80,127.22 V118.31 M461.80,118.31 H467.80" stroke="#000" stroke-width="1.35" fill="none"/>
<rect x="459.70" y="127.82" width="10.20" height="42.68" fill="#fff"/>
<path d="M458.70,110.20L470.90,122.40M458.70,115.96L470.90,128.16M458.70,121.72L470.90,133.92M458.70,127.48L470.90,139.68M458.70,133.24L470.90,145.44M458.70,139.00L470.90,151.20M458.70,144.76L470.90,156.96M458.70,150.52L470.90,162.72M458.70,156.28L470.90,168.48M458.70,162.04L470.90,174.24M458.70,167.80L470.90,180.00M458.70,173.56L470.90,185.76M458.70,179.32L470.90,191.52M458.70,120.44L470.90,108.24M458.70,126.20L470.90,114.00M458.70,131.96L470.90,119.76M458.70,137.72L470.90,125.52M458.70,143.48L470.90,131.28M458.70,149.24L470.90,137.04M458.70,155.00L470.90,142.80M458.70,160.76L470.90,148.56M458.70,166.52L470.90,154.32M458.70,172.28L470.90,160.08M458.70,178.04L470.90,165.84M458.70,183.80L470.90,171.60M458.70,189.56L470.90,177.36" clip-path="url(#c17)" stroke="#000" stroke-width="1.15" fill="none"/>
<rect x="459.70" y="127.82" width="10.20" height="42.68" fill="none" stroke="#000" stroke-width="1.2"/>
<path d="M464.80,170.50 v2.65" stroke="#000" stroke-width="1.3"/>
<text transform="translate(464.50,184.20) rotate(-45) scale(1.0700,1.0000)" font-size="10.1" font-weight="bold" text-anchor="end" letter-spacing="-0.45" stroke="#000" stroke-width="0.45" stroke-linejoin="round">30</text>
<path d="M479.40,101.76 V101.76 M476.40,101.76 H482.40" stroke="#000" stroke-width="1.35" fill="none"/>
<rect x="474.30" y="102.36" width="10.20" height="68.14" fill="#fff"/>
<path d="M473.30,84.48L485.50,96.68M473.30,90.24L485.50,102.44M473.30,96.00L485.50,108.20M473.30,101.76L485.50,113.96M473.30,107.52L485.50,119.72M473.30,113.28L485.50,125.48M473.30,119.04L485.50,131.24M473.30,124.80L485.50,137.00M473.30,130.56L485.50,142.76M473.30,136.32L485.50,148.52M473.30,142.08L485.50,154.28M473.30,147.84L485.50,160.04M473.30,153.60L485.50,165.80M473.30,159.36L485.50,171.56M473.30,165.12L485.50,177.32M473.30,170.88L485.50,183.08M473.30,176.64L485.50,188.84M473.30,94.32L485.50,82.12M473.30,100.08L485.50,87.88M473.30,105.84L485.50,93.64M473.30,111.60L485.50,99.40M473.30,117.36L485.50,105.16M473.30,123.12L485.50,110.92M473.30,128.88L485.50,116.68M473.30,134.64L485.50,122.44M473.30,140.40L485.50,128.20M473.30,146.16L485.50,133.96M473.30,151.92L485.50,139.72M473.30,157.68L485.50,145.48M473.30,163.44L485.50,151.24M473.30,169.20L485.50,157.00M473.30,174.96L485.50,162.76M473.30,180.72L485.50,168.52M473.30,186.48L485.50,174.28M473.30,192.24L485.50,180.04" clip-path="url(#c18)" stroke="#000" stroke-width="1.15" fill="none"/>
<rect x="474.30" y="102.36" width="10.20" height="68.14" fill="none" stroke="#000" stroke-width="1.2"/>
<path d="M479.40,170.50 v2.65" stroke="#000" stroke-width="1.3"/>
<text transform="translate(479.10,184.20) rotate(-45) scale(1.0700,1.0000)" font-size="10.1" font-weight="bold" text-anchor="end" letter-spacing="-0.45" stroke="#000" stroke-width="0.45" stroke-linejoin="round">100</text>
<path d="M494.00,84.57 V75.03 M491.00,75.03 H497.00" stroke="#000" stroke-width="1.35" fill="none"/>
<rect x="488.90" y="85.17" width="10.20" height="85.33" fill="#fff"/>
<path d="M487.90,64.52L500.10,76.72M487.90,70.28L500.10,82.48M487.90,76.04L500.10,88.24M487.90,81.80L500.10,94.00M487.90,87.56L500.10,99.76M487.90,93.32L500.10,105.52M487.90,99.08L500.10,111.28M487.90,104.84L500.10,117.04M487.90,110.60L500.10,122.80M487.90,116.36L500.10,128.56M487.90,122.12L500.10,134.32M487.90,127.88L500.10,140.08M487.90,133.64L500.10,145.84M487.90,139.40L500.10,151.60M487.90,145.16L500.10,157.36M487.90,150.92L500.10,163.12M487.90,156.68L500.10,168.88M487.90,162.44L500.10,174.64M487.90,168.20L500.10,180.40M487.90,173.96L500.10,186.16M487.90,179.72L500.10,191.92M487.90,79.72L500.10,67.52M487.90,85.48L500.10,73.28M487.90,91.24L500.10,79.04M487.90,97.00L500.10,84.80M487.90,102.76L500.10,90.56M487.90,108.52L500.10,96.32M487.90,114.28L500.10,102.08M487.90,120.04L500.10,107.84M487.90,125.80L500.10,113.60M487.90,131.56L500.10,119.36M487.90,137.32L500.10,125.12M487.90,143.08L500.10,130.88M487.90,148.84L500.10,136.64M487.90,154.60L500.10,142.40M487.90,160.36L500.10,148.16M487.90,166.12L500.10,153.92M487.90,171.88L500.10,159.68M487.90,177.64L500.10,165.44M487.90,183.40L500.10,171.20M487.90,189.16L500.10,176.96" clip-path="url(#c19)" stroke="#000" stroke-width="1.15" fill="none"/>
<rect x="488.90" y="85.17" width="10.20" height="85.33" fill="none" stroke="#000" stroke-width="1.2"/>
<path d="M494.00,170.50 v2.65" stroke="#000" stroke-width="1.3"/>
<text transform="translate(493.70,184.20) rotate(-45) scale(1.0700,1.0000)" font-size="10.1" font-weight="bold" text-anchor="end" letter-spacing="-0.45" stroke="#000" stroke-width="0.45" stroke-linejoin="round">300</text>
<path d="M508.60,78.84 V69.93 M505.60,69.93 H511.60" stroke="#000" stroke-width="1.35" fill="none"/>
<rect x="503.50" y="79.44" width="10.20" height="91.06" fill="#fff"/>
<path d="M502.50,61.84L514.70,74.04M502.50,67.60L514.70,79.80M502.50,73.36L514.70,85.56M502.50,79.12L514.70,91.32M502.50,84.88L514.70,97.08M502.50,90.64L514.70,102.84M502.50,96.40L514.70,108.60M502.50,102.16L514.70,114.36M502.50,107.92L514.70,120.12M502.50,113.68L514.70,125.88M502.50,119.44L514.70,131.64M502.50,125.20L514.70,137.40M502.50,130.96L514.70,143.16M502.50,136.72L514.70,148.92M502.50,142.48L514.70,154.68M502.50,148.24L514.70,160.44M502.50,154.00L514.70,166.20M502.50,159.76L514.70,171.96M502.50,165.52L514.70,177.72M502.50,171.28L514.70,183.48M502.50,177.04L514.70,189.24M502.50,70.88L514.70,58.68M502.50,76.64L514.70,64.44M502.50,82.40L514.70,70.20M502.50,88.16L514.70,75.96M502.50,93.92L514.70,81.72M502.50,99.68L514.70,87.48M502.50,105.44L514.70,93.24M502.50,111.20L514.70,99.00M502.50,116.96L514.70,104.76M502.50,122.72L514.70,110.52M502.50,128.48L514.70,116.28M502.50,134.24L514.70,122.04M502.50,140.00L514.70,127.80M502.50,145.76L514.70,133.56M502.50,151.52L514.70,139.32M502.50,157.28L514.70,145.08M502.50,163.04L514.70,150.84M502.50,168.80L514.70,156.60M502.50,174.56L514.70,162.36M502.50,180.32L514.70,168.12M502.50,186.08L514.70,173.88M502.50,191.84L514.70,179.64" clip-path="url(#c20)" stroke="#000" stroke-width="1.15" fill="none"/>
<rect x="503.50" y="79.44" width="10.20" height="91.06" fill="none" stroke="#000" stroke-width="1.2"/>
<path d="M508.60,170.50 v2.65" stroke="#000" stroke-width="1.3"/>
<text transform="translate(508.30,184.20) rotate(-45) scale(1.0700,1.0000)" font-size="10.1" font-weight="bold" text-anchor="end" letter-spacing="-0.45" stroke="#000" stroke-width="0.45" stroke-linejoin="round">1000</text>
<path d="M446.4,203.9 H519.1" stroke="#000" stroke-width="1.7"/>
<text transform="translate(481.20,218.60) scale(1.0400,1.0000)" font-size="13.6" font-weight="bold" text-anchor="middle" stroke="#000" stroke-width="0.30" stroke-linejoin="round">48h</text>
<path d="M355.4,42.35 V170.50 H516.5" stroke="#000" stroke-width="1.7" fill="none" stroke-linejoin="miter"/>
<path d="M350.75,170.50 H355.4" stroke="#000" stroke-width="1.7"/>
<text transform="translate(349.25,173.70)" font-size="9.7" font-weight="bold" text-anchor="end" stroke="#000" stroke-width="0.30" stroke-linejoin="round">0</text>
<path d="M350.75,145.04 H355.4" stroke="#000" stroke-width="1.7"/>
<text transform="translate(349.25,148.24)" font-size="9.7" font-weight="bold" text-anchor="end" stroke="#000" stroke-width="0.30" stroke-linejoin="round">20</text>
<path d="M350.75,119.58 H355.4" stroke="#000" stroke-width="1.7"/>
<text transform="translate(349.25,122.78)" font-size="9.7" font-weight="bold" text-anchor="end" stroke="#000" stroke-width="0.30" stroke-linejoin="round">40</text>
<path d="M350.75,94.12 H355.4" stroke="#000" stroke-width="1.7"/>
<text transform="translate(349.25,97.32)" font-size="9.7" font-weight="bold" text-anchor="end" stroke="#000" stroke-width="0.30" stroke-linejoin="round">60</text>
<path d="M350.75,68.66 H355.4" stroke="#000" stroke-width="1.7"/>
<text transform="translate(349.25,71.86)" font-size="9.7" font-weight="bold" text-anchor="end" stroke="#000" stroke-width="0.30" stroke-linejoin="round">80</text>
<path d="M350.75,43.20 H355.4" stroke="#000" stroke-width="1.7"/>
<text transform="translate(349.25,46.40)" font-size="9.7" font-weight="bold" text-anchor="end" stroke="#000" stroke-width="0.30" stroke-linejoin="round">100</text>
</g>
<g>
<text transform="translate(1.30,239.10)" font-size="25.3" font-weight="bold" text-anchor="start" stroke="#000" stroke-width="0.30" stroke-linejoin="round">C</text>
<text transform="translate(22.30,335.20) rotate(-90) scale(1.0900,1.0000)" font-size="11.0" font-weight="bold" text-anchor="middle" stroke="#000" stroke-width="0.45" stroke-linejoin="round">% Cells with Active Caspase-3</text>
<path d="M66.95,396.46 V389.49 M62.70,389.49 H71.20" stroke="#000" stroke-width="1.7" fill="none"/>
<rect x="60.40" y="397.36" width="13.10" height="12.89" fill="#000" stroke="#000" stroke-width="1.8"/>
<path d="M66.95,410.25 v3.75" stroke="#000" stroke-width="1.7"/>
<text transform="translate(66.95,426.95) rotate(-45) scale(1.1000,1.0000)" font-size="12.6" font-weight="bold" text-anchor="end" letter-spacing="-0.20" stroke="#000" stroke-width="0.50" stroke-linejoin="round">10</text>
<path d="M87.05,395.83 V389.49 M82.80,389.49 H91.30" stroke="#000" stroke-width="1.7" fill="none"/>
<rect x="80.50" y="396.73" width="13.10" height="13.52" fill="#000" stroke="#000" stroke-width="1.8"/>
<path d="M87.05,410.25 v3.75" stroke="#000" stroke-width="1.7"/>
<text transform="translate(87.05,426.95) rotate(-45) scale(1.1000,1.0000)" font-size="12.6" font-weight="bold" text-anchor="end" letter-spacing="-0.20" stroke="#000" stroke-width="0.50" stroke-linejoin="round">30</text>
<path d="M107.15,400.74 V396.46 M102.90,396.46 H111.40" stroke="#000" stroke-width="1.7" fill="none"/>
<rect x="100.60" y="401.64" width="13.10" height="8.61" fill="#000" stroke="#000" stroke-width="1.8"/>
<path d="M107.15,410.25 v3.75" stroke="#000" stroke-width="1.7"/>
<text transform="translate(107.15,426.95) rotate(-45) scale(1.1000,1.0000)" font-size="12.6" font-weight="bold" text-anchor="end" letter-spacing="-0.20" stroke="#000" stroke-width="0.50" stroke-linejoin="round">100</text>
<path d="M127.25,398.68 V393.30 M123.00,393.30 H131.50" stroke="#000" stroke-width="1.7" fill="none"/>
<rect x="120.70" y="399.58" width="13.10" height="10.67" fill="#000" stroke="#000" stroke-width="1.8"/>
<path d="M127.25,410.25 v3.75" stroke="#000" stroke-width="1.7"/>
<text transform="translate(127.25,426.95) rotate(-45) scale(1.1000,1.0000)" font-size="12.6" font-weight="bold" text-anchor="end" letter-spacing="-0.20" stroke="#000" stroke-width="0.50" stroke-linejoin="round">300</text>
<path d="M147.35,395.83 V383.79 M143.10,383.79 H151.60" stroke="#000" stroke-width="1.7" fill="none"/>
<rect x="140.80" y="396.73" width="13.10" height="13.52" fill="#000" stroke="#000" stroke-width="1.8"/>
<path d="M147.35,410.25 v3.75" stroke="#000" stroke-width="1.7"/>
<text transform="translate(147.35,426.95) rotate(-45) scale(1.1000,1.0000)" font-size="12.6" font-weight="bold" text-anchor="end" letter-spacing="-0.20" stroke="#000" stroke-width="0.50" stroke-linejoin="round">1000</text>
<path d="M54.6,450.3 H143.1" stroke="#000" stroke-width="1.5"/>
<text transform="translate(102.90,465.70) scale(1.0900,1.0000)" font-size="10.8" font-weight="bold" text-anchor="middle" stroke="#000" stroke-width="0.30" stroke-linejoin="round">PBMC</text>
<path d="M167.45,408.82 V408.82 M163.20,408.82 H171.70" stroke="#000" stroke-width="1.7" fill="none"/>
<rect x="160.90" y="409.72" width="13.10" height="0.53" fill="#fff"/>
<path d="M159.90,389.60L175.00,404.70M159.90,395.36L175.00,410.46M159.90,401.12L175.00,416.22M159.90,406.88L175.00,421.98M159.90,412.64L175.00,427.74M159.90,418.40L175.00,433.50M159.90,400.32L175.00,385.22M159.90,406.08L175.00,390.98M159.90,411.84L175.00,396.74M159.90,417.60L175.00,402.50M159.90,423.36L175.00,408.26M159.90,429.12L175.00,414.02M159.90,434.88L175.00,419.78" clip-path="url(#c21)" stroke="#000" stroke-width="1.3" fill="none"/>
<rect x="160.90" y="409.72" width="13.10" height="0.53" fill="none" stroke="#000" stroke-width="1.8"/>
<path d="M167.45,410.25 v3.75" stroke="#000" stroke-width="1.7"/>
<text transform="translate(167.45,426.95) rotate(-45) scale(1.1000,1.0000)" font-size="12.6" font-weight="bold" text-anchor="end" letter-spacing="-0.20" stroke="#000" stroke-width="0.50" stroke-linejoin="round">10</text>
<path d="M187.55,408.19 V407.40 M183.30,407.40 H191.80" stroke="#000" stroke-width="1.7" fill="none"/>
<rect x="181.00" y="409.09" width="13.10" height="1.16" fill="#fff"/>
<path d="M180.00,386.66L195.10,401.76M180.00,392.42L195.10,407.52M180.00,398.18L195.10,413.28M180.00,403.94L195.10,419.04M180.00,409.70L195.10,424.80M180.00,415.46L195.10,430.56M180.00,403.26L195.10,388.16M180.00,409.02L195.10,393.92M180.00,414.78L195.10,399.68M180.00,420.54L195.10,405.44M180.00,426.30L195.10,411.20M180.00,432.06L195.10,416.96" clip-path="url(#c22)" stroke="#000" stroke-width="1.3" fill="none"/>
<rect x="181.00" y="409.09" width="13.10" height="1.16" fill="none" stroke="#000" stroke-width="1.8"/>
<path d="M187.55,410.25 v3.75" stroke="#000" stroke-width="1.7"/>
<text transform="translate(187.55,426.95) rotate(-45) scale(1.1000,1.0000)" font-size="12.6" font-weight="bold" text-anchor="end" letter-spacing="-0.20" stroke="#000" stroke-width="0.50" stroke-linejoin="round">30</text>
<path d="M207.65,406.61 V404.07 M203.40,404.07 H211.90" stroke="#000" stroke-width="1.7" fill="none"/>
<rect x="201.10" y="407.51" width="13.10" height="2.74" fill="#fff"/>
<path d="M200.10,383.72L215.20,398.82M200.10,389.48L215.20,404.58M200.10,395.24L215.20,410.34M200.10,401.00L215.20,416.10M200.10,406.76L215.20,421.86M200.10,412.52L215.20,427.62M200.10,418.28L215.20,433.38M200.10,400.44L215.20,385.34M200.10,406.20L215.20,391.10M200.10,411.96L215.20,396.86M200.10,417.72L215.20,402.62M200.10,423.48L215.20,408.38M200.10,429.24L215.20,414.14M200.10,435.00L215.20,419.90" clip-path="url(#c23)" stroke="#000" stroke-width="1.3" fill="none"/>
<rect x="201.10" y="407.51" width="13.10" height="2.74" fill="none" stroke="#000" stroke-width="1.8"/>
<path d="M207.65,410.25 v3.75" stroke="#000" stroke-width="1.7"/>
<text transform="translate(207.65,426.95) rotate(-45) scale(1.1000,1.0000)" font-size="12.6" font-weight="bold" text-anchor="end" letter-spacing="-0.20" stroke="#000" stroke-width="0.50" stroke-linejoin="round">100</text>
<path d="M227.75,401.85 V399.48 M223.50,399.48 H232.00" stroke="#000" stroke-width="1.7" fill="none"/>
<rect x="221.20" y="402.75" width="13.10" height="7.50" fill="#fff"/>
<path d="M220.20,380.78L235.30,395.88M220.20,386.54L235.30,401.64M220.20,392.30L235.30,407.40M220.20,398.06L235.30,413.16M220.20,403.82L235.30,418.92M220.20,409.58L235.30,424.68M220.20,415.34L235.30,430.44M220.20,397.62L235.30,382.52M220.20,403.38L235.30,388.28M220.20,409.14L235.30,394.04M220.20,414.90L235.30,399.80M220.20,420.66L235.30,405.56M220.20,426.42L235.30,411.32M220.20,432.18L235.30,417.08" clip-path="url(#c24)" stroke="#000" stroke-width="1.3" fill="none"/>
<rect x="221.20" y="402.75" width="13.10" height="7.50" fill="none" stroke="#000" stroke-width="1.8"/>
<path d="M227.75,410.25 v3.75" stroke="#000" stroke-width="1.7"/>
<text transform="translate(227.75,426.95) rotate(-45) scale(1.1000,1.0000)" font-size="12.6" font-weight="bold" text-anchor="end" letter-spacing="-0.20" stroke="#000" stroke-width="0.50" stroke-linejoin="round">300</text>
<path d="M247.85,398.68 V397.42 M243.60,397.42 H252.10" stroke="#000" stroke-width="1.7" fill="none"/>
<rect x="241.30" y="399.58" width="13.10" height="10.67" fill="#fff"/>
<path d="M240.30,377.84L255.40,392.94M240.30,383.60L255.40,398.70M240.30,389.36L255.40,404.46M240.30,395.12L255.40,410.22M240.30,400.88L255.40,415.98M240.30,406.64L255.40,421.74M240.30,412.40L255.40,427.50M240.30,418.16L255.40,433.26M240.30,394.80L255.40,379.70M240.30,400.56L255.40,385.46M240.30,406.32L255.40,391.22M240.30,412.08L255.40,396.98M240.30,417.84L255.40,402.74M240.30,423.60L255.40,408.50M240.30,429.36L255.40,414.26M240.30,435.12L255.40,420.02" clip-path="url(#c25)" stroke="#000" stroke-width="1.3" fill="none"/>
<rect x="241.30" y="399.58" width="13.10" height="10.67" fill="none" stroke="#000" stroke-width="1.8"/>
<path d="M247.85,410.25 v3.75" stroke="#000" stroke-width="1.7"/>
<text transform="translate(247.85,426.95) rotate(-45) scale(1.1000,1.0000)" font-size="12.6" font-weight="bold" text-anchor="end" letter-spacing="-0.20" stroke="#000" stroke-width="0.50" stroke-linejoin="round">1000</text>
<path d="M153.8,450.3 H268" stroke="#000" stroke-width="1.5"/>
<text transform="translate(210.70,465.70) scale(1.0900,1.0000)" font-size="10.8" font-weight="bold" text-anchor="middle" stroke="#000" stroke-width="0.30" stroke-linejoin="round">Normal Fibroblast</text>
<path d="M57.0,250.75 V410.25 H258" stroke="#000" stroke-width="2.1" fill="none" stroke-linejoin="miter"/>
<path d="M50.95,410.25 H57.0" stroke="#000" stroke-width="2.1"/>
<text transform="translate(49.15,415.15) scale(1.0200,1.0000)" font-size="12.6" font-weight="bold" text-anchor="end" stroke="#000" stroke-width="0.30" stroke-linejoin="round">0</text>
<path d="M50.95,378.56 H57.0" stroke="#000" stroke-width="2.1"/>
<text transform="translate(49.15,383.46) scale(1.0200,1.0000)" font-size="12.6" font-weight="bold" text-anchor="end" stroke="#000" stroke-width="0.30" stroke-linejoin="round">20</text>
<path d="M50.95,346.87 H57.0" stroke="#000" stroke-width="2.1"/>
<text transform="translate(49.15,351.77) scale(1.0200,1.0000)" font-size="12.6" font-weight="bold" text-anchor="end" stroke="#000" stroke-width="0.30" stroke-linejoin="round">40</text>
<path d="M50.95,315.18 H57.0" stroke="#000" stroke-width="2.1"/>
<text transform="translate(49.15,320.08) scale(1.0200,1.0000)" font-size="12.6" font-weight="bold" text-anchor="end" stroke="#000" stroke-width="0.30" stroke-linejoin="round">60</text>
<path d="M50.95,283.49 H57.0" stroke="#000" stroke-width="2.1"/>
<text transform="translate(49.15,288.39) scale(1.0200,1.0000)" font-size="12.6" font-weight="bold" text-anchor="end" stroke="#000" stroke-width="0.30" stroke-linejoin="round">80</text>
<path d="M50.95,251.80 H57.0" stroke="#000" stroke-width="2.1"/>
<text transform="translate(49.15,256.70) scale(1.0200,1.0000)" font-size="12.6" font-weight="bold" text-anchor="end" stroke="#000" stroke-width="0.30" stroke-linejoin="round">100</text>
</g>
<g>
<text transform="translate(283.20,239.70) scale(0.9700,1.0000)" font-size="25.3" font-weight="bold" text-anchor="start" stroke="#000" stroke-width="0.30" stroke-linejoin="round">D</text>
<text transform="translate(292.90,329.90) rotate(-90) scale(1.0500,1.0000)" font-size="11.2" font-weight="bold" text-anchor="middle" stroke="#000" stroke-width="0.45" stroke-linejoin="round">% Annexin-V Positive Cells</text>
<path d="M332.65,403.15 V398.46 M328.40,398.46 H336.90" stroke="#000" stroke-width="1.7" fill="none"/>
<rect x="326.10" y="404.05" width="13.10" height="5.35" fill="#000" stroke="#000" stroke-width="1.8"/>
<path d="M332.65,409.40 v3.75" stroke="#000" stroke-width="1.7"/>
<text transform="translate(332.65,425.60) rotate(-45) scale(1.1000,1.0000)" font-size="12.6" font-weight="bold" text-anchor="end" letter-spacing="-0.20" stroke="#000" stroke-width="0.50" stroke-linejoin="round">10</text>
<path d="M352.30,397.21 V393.77 M348.05,393.77 H356.55" stroke="#000" stroke-width="1.7" fill="none"/>
<rect x="345.75" y="398.11" width="13.10" height="11.29" fill="#000" stroke="#000" stroke-width="1.8"/>
<path d="M352.30,409.40 v3.75" stroke="#000" stroke-width="1.7"/>
<text transform="translate(352.30,425.60) rotate(-45) scale(1.1000,1.0000)" font-size="12.6" font-weight="bold" text-anchor="end" letter-spacing="-0.20" stroke="#000" stroke-width="0.50" stroke-linejoin="round">30</text>
<path d="M371.95,395.02 V391.43 M367.70,391.43 H376.20" stroke="#000" stroke-width="1.7" fill="none"/>
<rect x="365.40" y="395.92" width="13.10" height="13.47" fill="#000" stroke="#000" stroke-width="1.8"/>
<path d="M371.95,409.40 v3.75" stroke="#000" stroke-width="1.7"/>
<text transform="translate(371.95,425.60) rotate(-45) scale(1.1000,1.0000)" font-size="12.6" font-weight="bold" text-anchor="end" letter-spacing="-0.20" stroke="#000" stroke-width="0.50" stroke-linejoin="round">100</text>
<path d="M391.60,390.02 V382.84 M387.35,382.84 H395.85" stroke="#000" stroke-width="1.7" fill="none"/>
<rect x="385.05" y="390.92" width="13.10" height="18.48" fill="#000" stroke="#000" stroke-width="1.8"/>
<path d="M391.60,409.40 v3.75" stroke="#000" stroke-width="1.7"/>
<text transform="translate(391.60,425.60) rotate(-45) scale(1.1000,1.0000)" font-size="12.6" font-weight="bold" text-anchor="end" letter-spacing="-0.20" stroke="#000" stroke-width="0.50" stroke-linejoin="round">300</text>
<path d="M411.25,385.02 V379.71 M407.00,379.71 H415.50" stroke="#000" stroke-width="1.7" fill="none"/>
<rect x="404.70" y="385.92" width="13.10" height="23.48" fill="#000" stroke="#000" stroke-width="1.8"/>
<path d="M411.25,409.40 v3.75" stroke="#000" stroke-width="1.7"/>
<text transform="translate(411.25,425.60) rotate(-45) scale(1.1000,1.0000)" font-size="12.6" font-weight="bold" text-anchor="end" letter-spacing="-0.20" stroke="#000" stroke-width="0.50" stroke-linejoin="round">1000</text>
<path d="M317.4,448.9 H407.7" stroke="#000" stroke-width="1.5"/>
<text transform="translate(370.00,464.40) scale(1.0900,1.0000)" font-size="10.8" font-weight="bold" text-anchor="middle" stroke="#000" stroke-width="0.30" stroke-linejoin="round">PBMC</text>
<path d="M430.90,398.15 V397.06 M426.65,397.06 H435.15" stroke="#000" stroke-width="1.7" fill="none"/>
<rect x="424.35" y="399.05" width="13.10" height="10.35" fill="#fff"/>
<path d="M423.35,377.07L438.45,392.17M423.35,382.83L438.45,397.93M423.35,388.59L438.45,403.69M423.35,394.35L438.45,409.45M423.35,400.11L438.45,415.21M423.35,405.87L438.45,420.97M423.35,411.63L438.45,426.73M423.35,417.39L438.45,432.49M423.35,393.61L438.45,378.51M423.35,399.37L438.45,384.27M423.35,405.13L438.45,390.03M423.35,410.89L438.45,395.79M423.35,416.65L438.45,401.55M423.35,422.41L438.45,407.31M423.35,428.17L438.45,413.07M423.35,433.93L438.45,418.83" clip-path="url(#c26)" stroke="#000" stroke-width="1.3" fill="none"/>
<rect x="424.35" y="399.05" width="13.10" height="10.35" fill="none" stroke="#000" stroke-width="1.8"/>
<path d="M430.90,409.40 v3.75" stroke="#000" stroke-width="1.7"/>
<text transform="translate(430.90,425.60) rotate(-45) scale(1.1000,1.0000)" font-size="12.6" font-weight="bold" text-anchor="end" letter-spacing="-0.20" stroke="#000" stroke-width="0.50" stroke-linejoin="round">10</text>
<path d="M450.55,393.62 V392.84 M446.30,392.84 H454.80" stroke="#000" stroke-width="1.7" fill="none"/>
<rect x="444.00" y="394.52" width="13.10" height="14.88" fill="#fff"/>
<path d="M443.00,373.68L458.10,388.78M443.00,379.44L458.10,394.54M443.00,385.20L458.10,400.30M443.00,390.96L458.10,406.06M443.00,396.72L458.10,411.82M443.00,402.48L458.10,417.58M443.00,408.24L458.10,423.34M443.00,414.00L458.10,429.10M443.00,419.76L458.10,434.86M443.00,385.48L458.10,370.38M443.00,391.24L458.10,376.14M443.00,397.00L458.10,381.90M443.00,402.76L458.10,387.66M443.00,408.52L458.10,393.42M443.00,414.28L458.10,399.18M443.00,420.04L458.10,404.94M443.00,425.80L458.10,410.70M443.00,431.56L458.10,416.46" clip-path="url(#c27)" stroke="#000" stroke-width="1.3" fill="none"/>
<rect x="444.00" y="394.52" width="13.10" height="14.88" fill="none" stroke="#000" stroke-width="1.8"/>
<path d="M450.55,409.40 v3.75" stroke="#000" stroke-width="1.7"/>
<text transform="translate(450.55,425.60) rotate(-45) scale(1.1000,1.0000)" font-size="12.6" font-weight="bold" text-anchor="end" letter-spacing="-0.20" stroke="#000" stroke-width="0.50" stroke-linejoin="round">30</text>
<path d="M470.20,395.65 V395.34 M465.95,395.34 H474.45" stroke="#000" stroke-width="1.7" fill="none"/>
<rect x="463.65" y="396.55" width="13.10" height="12.85" fill="#fff"/>
<path d="M462.65,376.05L477.75,391.15M462.65,381.81L477.75,396.91M462.65,387.57L477.75,402.67M462.65,393.33L477.75,408.43M462.65,399.09L477.75,414.19M462.65,404.85L477.75,419.95M462.65,410.61L477.75,425.71M462.65,416.37L477.75,431.47M462.65,388.87L477.75,373.77M462.65,394.63L477.75,379.53M462.65,400.39L477.75,385.29M462.65,406.15L477.75,391.05M462.65,411.91L477.75,396.81M462.65,417.67L477.75,402.57M462.65,423.43L477.75,408.33M462.65,429.19L477.75,414.09M462.65,434.95L477.75,419.85" clip-path="url(#c28)" stroke="#000" stroke-width="1.3" fill="none"/>
<rect x="463.65" y="396.55" width="13.10" height="12.85" fill="none" stroke="#000" stroke-width="1.8"/>
<path d="M470.20,409.40 v3.75" stroke="#000" stroke-width="1.7"/>
<text transform="translate(470.20,425.60) rotate(-45) scale(1.1000,1.0000)" font-size="12.6" font-weight="bold" text-anchor="end" letter-spacing="-0.20" stroke="#000" stroke-width="0.50" stroke-linejoin="round">100</text>
<path d="M489.85,395.65 V393.93 M485.60,393.93 H494.10" stroke="#000" stroke-width="1.7" fill="none"/>
<rect x="483.30" y="396.55" width="13.10" height="12.85" fill="#fff"/>
<path d="M482.30,372.66L497.40,387.76M482.30,378.42L497.40,393.52M482.30,384.18L497.40,399.28M482.30,389.94L497.40,405.04M482.30,395.70L497.40,410.80M482.30,401.46L497.40,416.56M482.30,407.22L497.40,422.32M482.30,412.98L497.40,428.08M482.30,418.74L497.40,433.84M482.30,386.50L497.40,371.40M482.30,392.26L497.40,377.16M482.30,398.02L497.40,382.92M482.30,403.78L497.40,388.68M482.30,409.54L497.40,394.44M482.30,415.30L497.40,400.20M482.30,421.06L497.40,405.96M482.30,426.82L497.40,411.72M482.30,432.58L497.40,417.48" clip-path="url(#c29)" stroke="#000" stroke-width="1.3" fill="none"/>
<rect x="483.30" y="396.55" width="13.10" height="12.85" fill="none" stroke="#000" stroke-width="1.8"/>
<path d="M489.85,409.40 v3.75" stroke="#000" stroke-width="1.7"/>
<text transform="translate(489.85,425.60) rotate(-45) scale(1.1000,1.0000)" font-size="12.6" font-weight="bold" text-anchor="end" letter-spacing="-0.20" stroke="#000" stroke-width="0.50" stroke-linejoin="round">300</text>
<path d="M509.50,393.62 V392.68 M505.25,392.68 H513.75" stroke="#000" stroke-width="1.7" fill="none"/>
<rect x="502.95" y="394.52" width="13.10" height="14.88" fill="#fff"/>
<path d="M501.95,369.27L517.05,384.37M501.95,375.03L517.05,390.13M501.95,380.79L517.05,395.89M501.95,386.55L517.05,401.65M501.95,392.31L517.05,407.41M501.95,398.07L517.05,413.17M501.95,403.83L517.05,418.93M501.95,409.59L517.05,424.69M501.95,415.35L517.05,430.45M501.95,384.13L517.05,369.03M501.95,389.89L517.05,374.79M501.95,395.65L517.05,380.55M501.95,401.41L517.05,386.31M501.95,407.17L517.05,392.07M501.95,412.93L517.05,397.83M501.95,418.69L517.05,403.59M501.95,424.45L517.05,409.35M501.95,430.21L517.05,415.11" clip-path="url(#c30)" stroke="#000" stroke-width="1.3" fill="none"/>
<rect x="502.95" y="394.52" width="13.10" height="14.88" fill="none" stroke="#000" stroke-width="1.8"/>
<path d="M509.50,409.40 v3.75" stroke="#000" stroke-width="1.7"/>
<text transform="translate(509.50,425.60) rotate(-45) scale(1.1000,1.0000)" font-size="12.6" font-weight="bold" text-anchor="end" letter-spacing="-0.20" stroke="#000" stroke-width="0.50" stroke-linejoin="round">1000</text>
<path d="M411.6,448.9 H520" stroke="#000" stroke-width="1.5"/>
<text transform="translate(467.10,464.40) scale(1.0900,1.0000)" font-size="10.8" font-weight="bold" text-anchor="middle" stroke="#000" stroke-width="0.30" stroke-linejoin="round">Normal Fibroblast</text>
<path d="M323.0,252.10 V409.40 H520" stroke="#000" stroke-width="2.1" fill="none" stroke-linejoin="miter"/>
<path d="M316.95,409.40 H323.0" stroke="#000" stroke-width="2.1"/>
<text transform="translate(315.65,415.30) scale(1.0200,1.0000)" font-size="12.6" font-weight="bold" text-anchor="end" stroke="#000" stroke-width="0.30" stroke-linejoin="round">0</text>
<path d="M316.95,378.15 H323.0" stroke="#000" stroke-width="2.1"/>
<text transform="translate(315.65,384.05) scale(1.0200,1.0000)" font-size="12.6" font-weight="bold" text-anchor="end" stroke="#000" stroke-width="0.30" stroke-linejoin="round">20</text>
<path d="M316.95,346.90 H323.0" stroke="#000" stroke-width="2.1"/>
<text transform="translate(315.65,352.80) scale(1.0200,1.0000)" font-size="12.6" font-weight="bold" text-anchor="end" stroke="#000" stroke-width="0.30" stroke-linejoin="round">40</text>
<path d="M316.95,315.65 H323.0" stroke="#000" stroke-width="2.1"/>
<text transform="translate(315.65,321.55) scale(1.0200,1.0000)" font-size="12.6" font-weight="bold" text-anchor="end" stroke="#000" stroke-width="0.30" stroke-linejoin="round">60</text>
<path d="M316.95,284.40 H323.0" stroke="#000" stroke-width="2.1"/>
<text transform="translate(315.65,290.30) scale(1.0200,1.0000)" font-size="12.6" font-weight="bold" text-anchor="end" stroke="#000" stroke-width="0.30" stroke-linejoin="round">80</text>
<path d="M316.95,253.15 H323.0" stroke="#000" stroke-width="2.1"/>
<text transform="translate(315.65,259.05) scale(1.0200,1.0000)" font-size="12.6" font-weight="bold" text-anchor="end" stroke="#000" stroke-width="0.30" stroke-linejoin="round">100</text>
</g>
</svg>
</body>
</html>
